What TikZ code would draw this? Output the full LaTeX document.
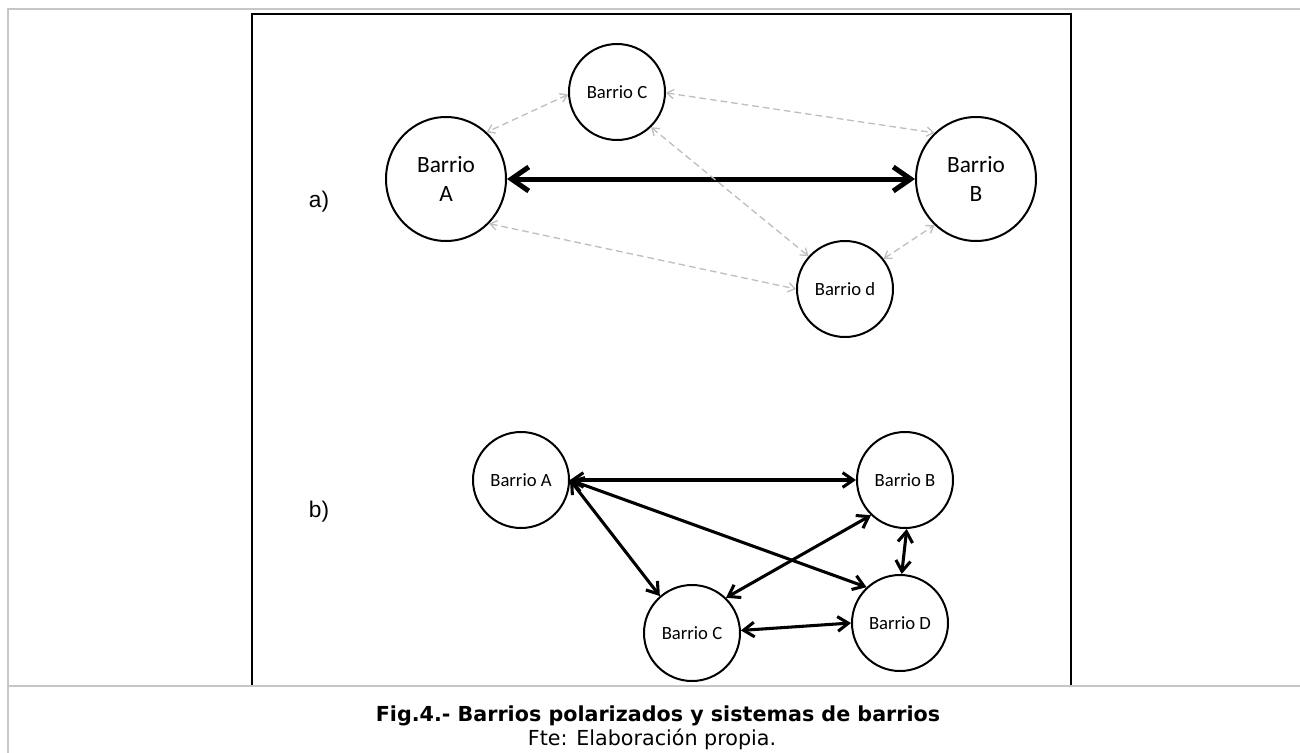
\documentclass[tikz,border=0pt]{standalone}
\usepackage{fontspec}
\setmainfont{Carlito}
\newfontfamily\arialfont{Liberation Sans}
\newfontfamily\verdanafont{DejaVu Sans}
\usepackage{tikz}
\usetikzlibrary{arrows.meta,shapes.geometric}
\tikzset{
  barrio/.style={draw, circle, line width=1.5pt, minimum size=72pt, inner sep=0pt, font=\fontsize{14}{16}\selectfont},
  barriogrande/.style={draw, ellipse, line width=1.5pt, minimum width=90pt, minimum height=93pt, inner sep=0pt, align=center, font=\fontsize{17.5}{22}\selectfont},
  polar/.style={{Straight Barb[length=13pt,width=18pt]}-{Straight Barb[length=13pt,width=18pt]}, line width=3.75pt},
  debil/.style={{Straight Barb[length=5pt,width=7pt]}-{Straight Barb[length=5pt,width=7pt]}, line width=1pt, dash pattern=on 5pt off 3pt, draw=gray!50},
  enlace/.style={{Straight Barb[length=8pt,width=11pt]}-{Straight Barb[length=8pt,width=11pt]}, line width=2.3pt},
  marco/.style={line width=1.5pt, draw=gray!45},
  rotulo/.style={anchor=base, font=\arialfont\fontsize{17}{19}\selectfont},
  leyenda/.style={anchor=base, font=\verdanafont\fontsize{15.5}{18}\selectfont},
}

\begin{document}
\begin{tikzpicture}[x=0.75pt, y=-0.75pt]
\useasboundingbox (0,0) rectangle (1300,753);
\draw[line width=2pt] (252,685) -- (252,14) -- (1071,14) -- (1071,685);
\draw[marco] (8,753) -- (8,9) -- (1300,9);
\draw[marco] (8,686) -- (1300,686);

\node[barriogrande] (A1) at (446,179) {Barrio\\A};
\node[barriogrande] (B1) at (976,179) {Barrio\\B};
\node[barrio] (C1) at (617,92) {Barrio C};
\node[barrio] (D1) at (845,289) {Barrio d};
\node[rotulo] (la) at (319,207) {a)};
\draw[polar] (A1) -- (B1);
\draw[debil] (C1.183) -- (A1.49);
\draw[debil] (C1.-1) -- (B1.132);
\draw[debil] (C1.-46) -- (D1.138);
\draw[debil] (A1.-46) -- (D1.180);
\draw[debil] (D1.38) -- (B1.-132);

\node[barrio] (A2) at (521,480) {Barrio A};
\node[barrio] (B2) at (905,480) {Barrio B};
\node[barrio] (C2) at (692,633) {Barrio C};
\node[barrio] (D2) at (900,623) {Barrio D};
\node[rotulo] (lb) at (319,517) {b)};
\draw[enlace] (A2.east) -- (B2.west);
\draw[enlace] (A2.east) -- (C2.131);
\draw[enlace] (A2.east) -- (D2.133);
\draw[enlace] (C2.46) -- (B2.-134);
\draw[enlace] (B2.-88) -- (D2.88);
\draw[enlace] (C2.3) -- (D2.180);

\node[leyenda, font=\verdanafont\bfseries\fontsize{15.5}{18}\selectfont] (titulo) at (658,721) {Fig.4.- Barrios polarizados y sistemas de barrios};
\node[leyenda] (fuente) at (652,745) {Fte: Elaboración propia.};
\end{tikzpicture}
\end{document}
